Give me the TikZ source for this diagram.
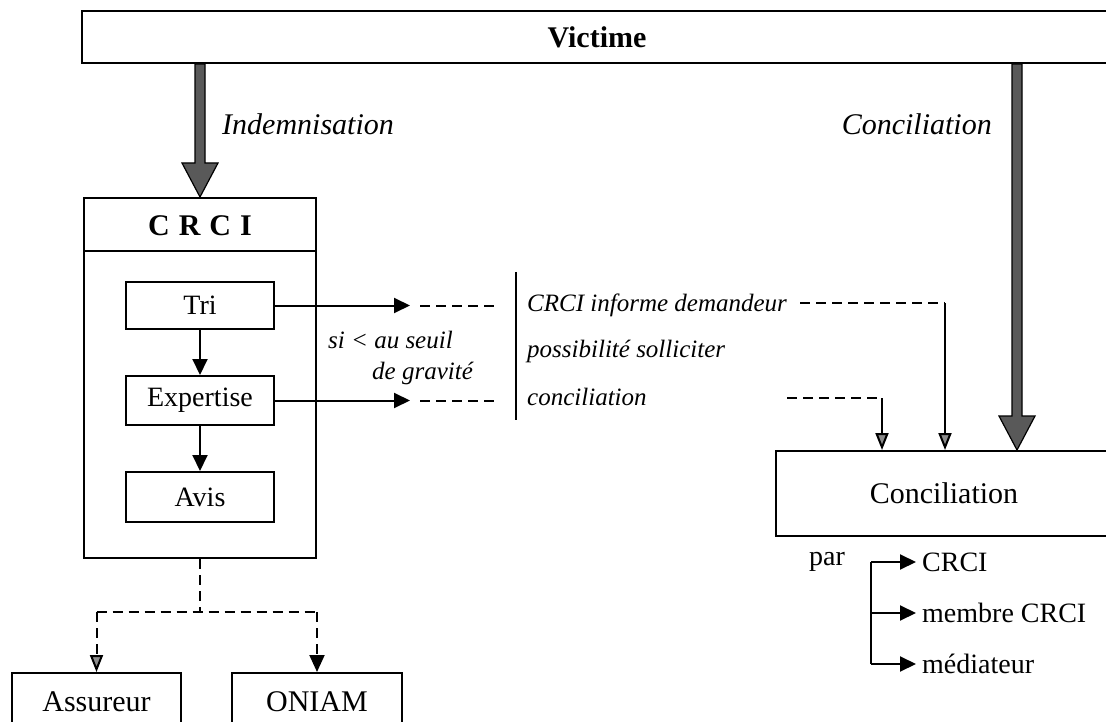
\documentclass[tikz,border=0pt]{standalone}
\usepackage{fontspec}
\setmainfont{Liberation Serif}
\usetikzlibrary{arrows.meta,calc}
\newcommand{\fatarrow}[2]{%
  \path[fat] let \p1=(#1), \p2=(#2) in
   (\x1-5pt,\y1) -- (\x1-5pt,\y2+34pt) -- (\x1-18pt,\y2+34pt) -- (\x2,\y2)
   -- (\x1+18pt,\y2+34pt) -- (\x1+5pt,\y2+34pt) -- (\x1+5pt,\y1) -- cycle;}
\begin{document}
\begin{tikzpicture}[x=1pt,y=-1pt,
  box/.style={draw, line width=2pt, rectangle, inner sep=0pt, anchor=center},
  lbl/.style={inner sep=0pt, anchor=center},
  big/.style={font=\fontsize{30}{36}\selectfont},
  mid/.style={font=\fontsize{28}{32}\selectfont},
  ital/.style={font=\itshape\fontsize{25}{29}\selectfont},
  bigital/.style={font=\itshape\fontsize{30}{36}\selectfont},
  sarrow/.style={line width=2pt, -{Triangle[width=15pt,length=16pt]}},
  garrow/.style={line width=2pt, -{Triangle[width=13pt,length=17pt,fill=black!45]}},
  dashline/.style={line width=2pt, dash pattern=on 10pt off 6pt},
  fat/.style={fill=black!65, draw=black, line width=1.2pt}
]
\useasboundingbox (0,0) rectangle (1106,722);
\clip (0,0) rectangle (1106,722);

% top box
\node[box, minimum width=1030pt, minimum height=52pt, font=\bfseries\fontsize{30}{36}\selectfont] (vic) at (597,37) {Victime};

% CRCI block
\node[box, minimum width=232pt, minimum height=360pt] (crci) at (200,378) {};
\coordinate (hl) at (0,251);
\draw[line width=2pt] (crci.west |- hl) -- (crci.east |- hl);
\node[lbl, font=\bfseries\fontsize{30}{36}\selectfont] (crcititle) at (200,226) {C\hspace{0.3em}R\hspace{0.3em}C\hspace{0.3em}I};
\node[box, minimum width=148pt, minimum height=47pt, mid] (tri) at (200,305.5) {Tri};
\node[box, minimum width=148pt, minimum height=49pt, mid] (exp) at (200,400.5) {Expertise};
\node[box, minimum width=148pt, minimum height=50pt, mid] (avis) at (200,497) {Avis};
\draw[sarrow] (tri) -- (exp);
\draw[sarrow] (exp) -- (avis);

% fat arrows and their labels
\coordinate (fl) at (200,0);
\coordinate (fr) at (1017,0);
\node[box, minimum width=336pt, minimum height=85pt, big] (conc) at (944,493.5) {Conciliation};
\fatarrow{vic.south -| fl}{crci.north}
\fatarrow{vic.south -| fr}{conc.north -| fr}
\node[lbl, anchor=west, bigital] (ind) at (222,124) {Indemnisation};
\node[lbl, anchor=east, bigital] (concl) at (992,124) {Conciliation};

% middle information
\coordinate (ta) at (410,0);
\coordinate (tb) at (420,0);
\coordinate (tc) at (500,0);
\draw[sarrow] (tri.east) -- (tri.east -| ta);
\draw[dashline] (tri.east -| tb) -- (tri.east -| tc);
\draw[sarrow] (exp.east) -- (exp.east -| ta);
\draw[dashline] (exp.east -| tb) -- (exp.east -| tc);
\node[lbl, anchor=west, ital] (si1) at (328,340) {si < au seuil};
\node[lbl, anchor=west, ital] (si2) at (372,373) {de gravité};
\coordinate (v1) at (516,272);
\coordinate (v2) at (516,420);
\draw[line width=1.6pt] (v1) -- (v2);
\node[lbl, anchor=west, ital] (inf1) at (527,305) {CRCI informe demandeur};
\node[lbl, anchor=west, ital] (inf2) at (527,351) {possibilité solliciter};
\node[lbl, anchor=west, ital] (inf3) at (527,397) {conciliation};

\coordinate (d1) at (800,303);
\coordinate (d1c) at (945,303);
\draw[dashline] (d1) -- (d1c);
\draw[garrow] (d1c) -- (d1c |- conc.north);
\coordinate (d2) at (787,398);
\coordinate (d2c) at (882,398);
\draw[dashline] (d2) -- (d2c);
\draw[garrow] (d2c) -- (d2c |- conc.north);

% par bracket
\node[lbl, mid] (par) at (827,562) {par};
\node[lbl, anchor=west, mid] (o1) at (922,562) {CRCI};
\node[lbl, anchor=west, mid] (o2) at (922,613) {membre CRCI};
\node[lbl, anchor=west, mid] (o3) at (922,664) {médiateur};
\coordinate (bx) at (871,0);
\draw[line width=2pt] (bx |- o1.west) -- (bx |- o3.west);
\draw[sarrow] (bx |- o1.west) -- ([xshift=-6pt]o1.west);
\draw[sarrow] (bx |- o2.west) -- ([xshift=-6pt]o2.west);
\draw[sarrow] (bx |- o3.west) -- ([xshift=-6pt]o3.west);

% bottom
\node[box, minimum width=169pt, minimum height=58pt, big] (ass) at (96.5,702) {Assureur};
\node[box, minimum width=170pt, minimum height=58pt, big] (oni) at (317,702) {ONIAM};
\coordinate (jn) at (200,612);
\draw[dashline] (crci.south) -- (jn);
\draw[dashline] (ass.north |- jn) -- (oni.north |- jn);
\draw[dashline, -{Triangle[width=13pt,length=17pt,fill=black!45]}] (ass.north |- jn) -- (ass.north);
\draw[dashline, -{Triangle[width=15pt,length=17pt]}] (oni.north |- jn) -- (oni.north);
\end{tikzpicture}
\end{document}
